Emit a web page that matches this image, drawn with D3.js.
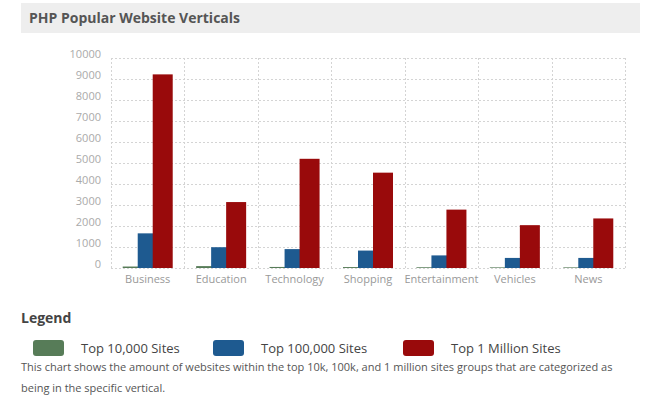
<!DOCTYPE html>
<html>
<head>
<meta charset="utf-8">
<script src="https://cdn.jsdelivr.net/npm/d3@7/dist/d3.min.js"></script>
<style>
  body { margin: 0; background: #fff; font-family: "Open Sans", sans-serif; }
</style>
</head>
<body>
<svg id="chart" width="653" height="396"></svg>
<script>
let svg = d3.select("#chart");

// data
let categories = ["Business", "Education", "Technology", "Shopping", "Entertainment", "Vehicles", "News"];
let seriesNames = ["Top 10,000 Sites", "Top 100,000 Sites", "Top 1 Million Sites"];
let top10k = [70, 90, 50, 45, 35, 30, 30];
let top100k = [1650, 990, 900, 830, 600, 480, 480];
let top1m = [9220, 3140, 5200, 4540, 2780, 2040, 2360];
let yTicks = [0, 1000, 2000, 3000, 4000, 5000, 6000, 7000, 8000, 9000, 10000];
let colors = ["#577c58", "#1e5a90", "#990a0b"];

let series = [top10k, top100k, top1m];

//? title bar
svg.append("rect")
    .attr("x", 21).attr("y", 3)
    .attr("width", 619).attr("height", 30)
    .attr("fill", "#eeeeee");
svg.append("text")
    .attr("x", 29).attr("y", 23)
    .attr("font-size", 14).attr("font-weight", "bold")
    .attr("fill", "#555")
    .text("PHP Popular Website Verticals");

//? scales
let x0 = d3.scaleBand()
    .domain(categories)
    .range([111, 625]);

let x1 = d3.scaleBand()
    .domain(d3.range(3))
    .range([0, 45]);

let y = d3.scaleLinear()
    .domain([0, 10000])
    .range([268, 58]);

//? grid
let grid = svg.append("g").attr("class", "grid")
    .attr("stroke", "#d4d4d4")
    .attr("stroke-dasharray", "2,2");

grid.selectAll("line.h")
    .data(yTicks)
    .enter()
    .append("line")
    .attr("class", "h")
    .attr("x1", 111).attr("x2", 625)
    .attr("y1", d => y(d) + 0.5).attr("y2", d => y(d) + 0.5);

grid.selectAll("line.v")
    .data(categories.map(c => x0(c)).concat([625]))
    .enter()
    .append("line")
    .attr("class", "v")
    .attr("x1", d => Math.round(d) + 0.5).attr("x2", d => Math.round(d) + 0.5)
    .attr("y1", y(10000)).attr("y2", y(0));

//? y axis labels
let yAxis = svg.append("g")
    .attr("transform", "translate(101,0)")
    .call(d3.axisLeft(y).tickValues(yTicks).tickFormat(d3.format("d")).tickSize(0).tickPadding(0));
yAxis.select(".domain").remove();
yAxis.selectAll("text")
    .attr("font-family", "Open Sans")
    .attr("font-size", 11)
    .attr("fill", "#aaa")
    .attr("dy", "-0.08em");

//? x axis labels
let xAxis = svg.append("g")
    .attr("transform", "translate(0,268)")
    .call(d3.axisBottom(x0).tickSize(0).tickPadding(7));
xAxis.select(".domain").remove();
xAxis.selectAll("text")
    .attr("font-family", "Open Sans")
    .attr("font-size", 11)
    .attr("fill", "#999");

//? bars
let groupOffset = (x0.bandwidth() - 50) / 2;
let groups = svg.append("g")
    .selectAll("g")
    .data(categories)
    .enter()
    .append("g")
    .attr("transform", d => "translate(" + (x0(d) + groupOffset) + ",0)");

groups.selectAll("rect")
    .data((d, i) => series.map((s, k) => ({ k: k, v: s[i] })))
    .enter()
    .append("rect")
    .attr("x", d => x1(d.k))
    .attr("width", 20)
    .attr("y", d => y(d.v))
    .attr("height", d => y(0) - y(d.v))
    .attr("fill", d => colors[d.k]);

//? legend
svg.append("text")
    .attr("x", 21).attr("y", 323)
    .attr("font-size", 14).attr("font-weight", "bold")
    .attr("fill", "#444")
    .text("Legend");

let legendX = [33, 213, 403];
let legend = svg.append("g")
    .selectAll("g")
    .data(seriesNames)
    .enter()
    .append("g")
    .attr("transform", (d, i) => "translate(" + legendX[i] + ",340)");

legend.append("rect")
    .attr("width", 31).attr("height", 16)
    .attr("rx", 3)
    .attr("fill", (d, i) => colors[i]);

legend.append("text")
    .attr("x", 48).attr("y", 13)
    .attr("font-size", 13)
    .attr("fill", "#444")
    .text(d => d);

let desc = svg.append("text")
    .attr("font-size", 11)
    .attr("fill", "#555");
desc.append("tspan").attr("x", 21).attr("y", 371)
    .text("This chart shows the amount of websites within the top 10k, 100k, and 1 million sites groups that are categorized as");
desc.append("tspan").attr("x", 21).attr("y", 392)
    .text("being in the specific vertical.");
</script>
</body>
</html>
